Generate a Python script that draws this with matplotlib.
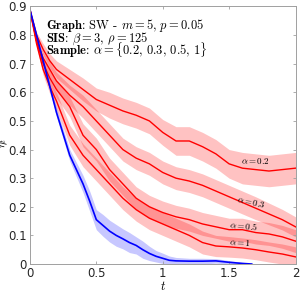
import matplotlib
matplotlib.use("Agg")
import matplotlib.pyplot as plt
import numpy as np

plt.rcParams['mathtext.fontset'] = 'cm'

# time grid for the sampled (red) curves
t_red = [0, .05, .1, .15, .2, .3, .4, .5, .6, .7, .8, .9, 1.0,
         1.1, 1.2, 1.3, 1.4, 1.5, 1.6, 1.7, 1.8, 1.9, 2.0]

eta_a02 = [.89, .80, .75, .71, .68, .645, .61, .575, .555, .535, .52, .50, .46,
           .43, .43, .41, .385, .35, .335, .33, .325, .33, .335]
eta_a03 = [.89, .78, .72, .68, .64, .59, .55, .50, .45, .40, .37, .35, .32,
           .30, .29, .275, .255, .235, .215, .195, .175, .155, .13]
eta_a05 = [.89, .78, .70, .65, .61, .55, .45, .40, .33, .28, .23, .20, .18,
           .165, .155, .14, .13, .12, .12, .11, .105, .095, .08]
eta_a1 = [.89, .77, .68, .62, .57, .45, .38, .33, .28, .23, .19, .16, .14,
          .12, .10, .075, .063, .06, .056, .05, .042, .035, .025]

# half width of the shaded bands
sd_a02 = [0, .01, .02, .025, .03, .035, .04, .04, .045, .045, .045, .045, .045,
          .05, .05, .05, .05, .05, .055, .055, .055, .055, .055]
sd_a03 = [0, .01, .02, .025, .03, .035, .04, .04, .04, .04, .04, .04, .04,
          .04, .04, .04, .04, .04, .04, .04, .038, .036, .035]
sd_a05 = [0, .01, .02, .025, .03, .035, .04, .04, .04, .04, .04, .04, .04,
          .04, .04, .04, .04, .04, .04, .04, .04, .04, .04]
sd_a1 = [0, .01, .02, .025, .03, .035, .04, .04, .04, .04, .04, .04, .04,
         .04, .04, .04, .037, .036, .035, .035, .035, .035, .035]

# full information (blue) curve
t_full = [0, .1, .2, .3, .35, .4, .45, .5, .55, .6, .65, .7, .75, .8, .85, .9,
          .95, 1.0, 1.05, 1.1, 1.2, 1.3, 1.4, 1.5, 1.6, 1.67]
eta_full = [.89, .71, .53, .38, .33, .28, .22, .155, .135, .115, .10, .088, .075,
            .065, .05, .037, .027, .02, .013, .011, .01, .01, .011, .006, .002, 0]
sd_full = [0, .01, .015, .02, .025, .03, .035, .035, .038, .038, .038, .035, .035,
           .03, .03, .025, .02, .018, .015, .012, .01, .01, .008, .006, .004, .002]

alpha_labels = [r'$\alpha = 0.2$', r'$\alpha = 0.3$', r'$\alpha = 0.5$', r'$\alpha = 1$']
label_pos = [(1.70, 0.36, 0), (1.67, 0.215, -12), (1.61, 0.134, -5), (1.58, 0.074, -3)]

info_lines = [r'$\mathbf{Graph}$: SW - $m = 5$, $p = 0.05$',
              r'$\mathbf{SIS}$: $\beta = 3$, $\rho = 125$',
              r'$\mathbf{Sample}$: $\alpha = \{0.2$, $0.3$, $0.5$, $1\}$']

fig = plt.figure(figsize=(3.05, 2.95), dpi=100)
ax = fig.add_axes([0.098, 0.105, 0.871, 0.873])

red_series = [(eta_a02, sd_a02), (eta_a03, sd_a03), (eta_a05, sd_a05), (eta_a1, sd_a1)]
for eta, sd in red_series:
    eta = np.array(eta)
    sd = np.array(sd)
    ax.fill_between(t_red, eta - sd, eta + sd, color='#ff0000', alpha=0.24, lw=0)
for eta, sd in red_series:
    ax.plot(t_red, eta, color='#ff0000', lw=1.0)

eta = np.array(eta_full)
sd = np.array(sd_full)
ax.fill_between(t_full, eta - sd, eta + sd, color='#0000ff', alpha=0.22, lw=0)
ax.plot(t_full, eta, color='#0000ff', lw=1.2)

for lab, (x, y, rot) in zip(alpha_labels, label_pos):
    ax.text(x, y, lab, fontsize=6.5, rotation=rot, ha='center', va='center')

for i, line in enumerate(info_lines):
    ax.text(0.12, 0.822 - 0.046 * i, line, fontsize=9, va='baseline',
            family='cmr10')

ax.set_xlim(0, 2)
ax.set_ylim(0, 0.9)
ax.set_xticks([0, 0.5, 1, 1.5, 2])
ax.set_xticklabels(['0', '0.5', '1', '1.5', '2'])
ax.set_yticks([0, .1, .2, .3, .4, .5, .6, .7, .8, .9])
ax.set_yticklabels(['0', '0.1', '0.2', '0.3', '0.4', '0.5', '0.6', '0.7', '0.8', '0.9'])
ax.tick_params(direction='in', length=2.5, width=0.6, labelsize=8.5, colors='#a0a0a0',
               labelcolor='#262626', top=True, right=True, pad=2)
for s in ax.spines.values():
    s.set_color('#a0a0a0')
    s.set_linewidth(0.7)
ax.set_xlabel(r'$t$', fontsize=9, labelpad=0)
ax.set_ylabel(r'$\eta_t$', fontsize=8)
ax.yaxis.set_label_coords(-0.075, 0.47)

fig.savefig('out.png', dpi=100)
